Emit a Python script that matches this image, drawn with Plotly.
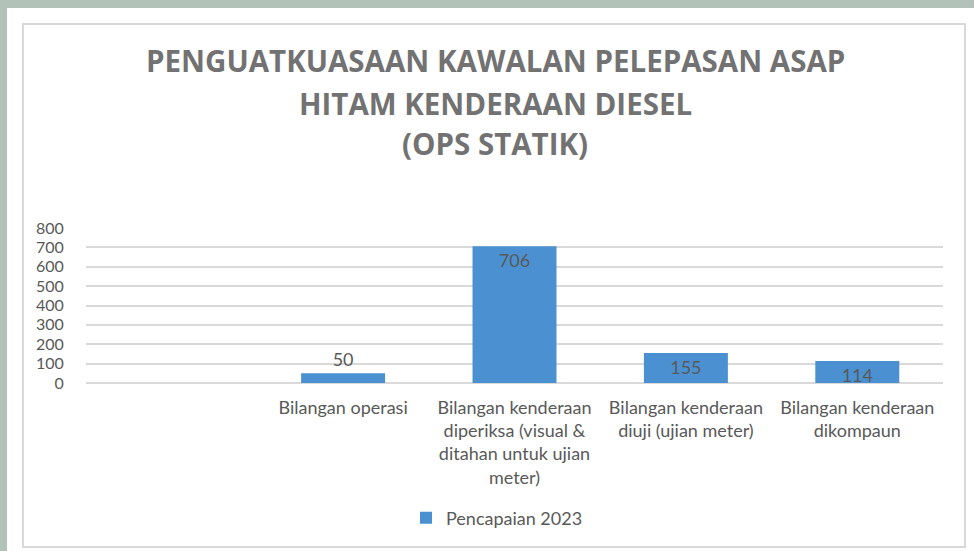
import plotly.graph_objects as go

categories = ["Bilangan operasi",
              "Bilangan kenderaan<br>diperiksa (visual &<br>ditahan untuk ujian<br>meter)",
              "Bilangan kenderaan<br>diuji (ujian meter)",
              "Bilangan kenderaan<br>dikompaun"]
positions = [1, 2, 3, 4]
values_2023 = [50, 706, 155, 114]
series_name = "Pencapaian 2023"
y_ticks = [0, 100, 200, 300, 400, 500, 600, 700, 800]
title_lines = ["PENGUATKUASAAN KAWALAN PELEPASAN ASAP", "HITAM KENDERAAN DIESEL", "(OPS STATIK)"]

W, H = 974, 551
L, R, T, B = 86, 31, 228, 168
pw, ph = W - L - R, H - T - B

def fx(px):
    return (px - L) / pw

def fy(py):
    return (H - B - py) / ph

FONT = "Lato"
TFONT = "Open Sans"
TXT = "#595959"
GREEN = "#b3c2b9"

fig = go.Figure()
fig.add_trace(go.Bar(
    x=positions, y=values_2023, name=series_name,
    marker=dict(color="#4b91d2", line=dict(width=0)),
    text=[str(v) for v in values_2023],
    textposition=["outside", "inside", "inside", "inside"],
    insidetextanchor="end",
    constraintext="none",
    cliponaxis=False,
    textfont=dict(family=FONT, size=18, color=TXT),
    showlegend=True,
))

shapes = [
    dict(type="rect", xref="paper", yref="paper", x0=fx(0), x1=fx(W), y0=fy(8), y1=fy(0),
         fillcolor=GREEN, line=dict(width=0), layer="below"),
    dict(type="rect", xref="paper", yref="paper", x0=fx(0), x1=fx(7), y0=fy(H), y1=fy(0),
         fillcolor=GREEN, line=dict(width=0), layer="below"),
    dict(type="rect", xref="paper", yref="paper", x0=fx(23), x1=fx(965), y0=fy(547), y1=fy(24),
         fillcolor="rgba(0,0,0,0)", line=dict(width=2, color="#d9d9d9"), layer="below"),
]

title_y = [61, 103, 143]
annotations = [
    dict(text=t, xref="paper", yref="paper", x=fx(495), y=fy(py), xanchor="center", yanchor="middle",
         showarrow=False, font=dict(family=TFONT, size=29.5, color="#727272", weight="bold"))
    for t, py in zip(title_lines, title_y)
]

fig.update_layout(
    width=W, height=H,
    margin=dict(l=L, r=R, t=T, b=B),
    paper_bgcolor="white", plot_bgcolor="white",
    shapes=shapes,
    annotations=annotations,
    bargap=0.51,
    xaxis=dict(range=[-0.5, 4.5], tickvals=positions, ticktext=categories,
               showgrid=False, zeroline=False, showline=False,
               ticks="outside", ticklen=8, tickcolor="rgba(0,0,0,0)",
               tickfont=dict(family=FONT, size=18, color=TXT), tickangle=0),
    yaxis=dict(range=[0, 800], tickvals=y_ticks, showgrid=True, gridcolor="#d9d9d9", gridwidth=2,
               zeroline=True, zerolinecolor="#d9d9d9", zerolinewidth=2, showline=False,
               ticks="outside", ticklen=18, tickcolor="rgba(0,0,0,0)",
               tickfont=dict(family=FONT, size=16, color=TXT)),
    legend=dict(orientation="h", x=fx(497), y=fy(518), xanchor="center", yanchor="middle",
                font=dict(family=FONT, size=18, color=TXT), itemwidth=30),
    font=dict(family=FONT, color=TXT),
)

fig.write_html("out.html", config={"displayModeBar": False},
               post_script="document.body.style.margin='0';")
